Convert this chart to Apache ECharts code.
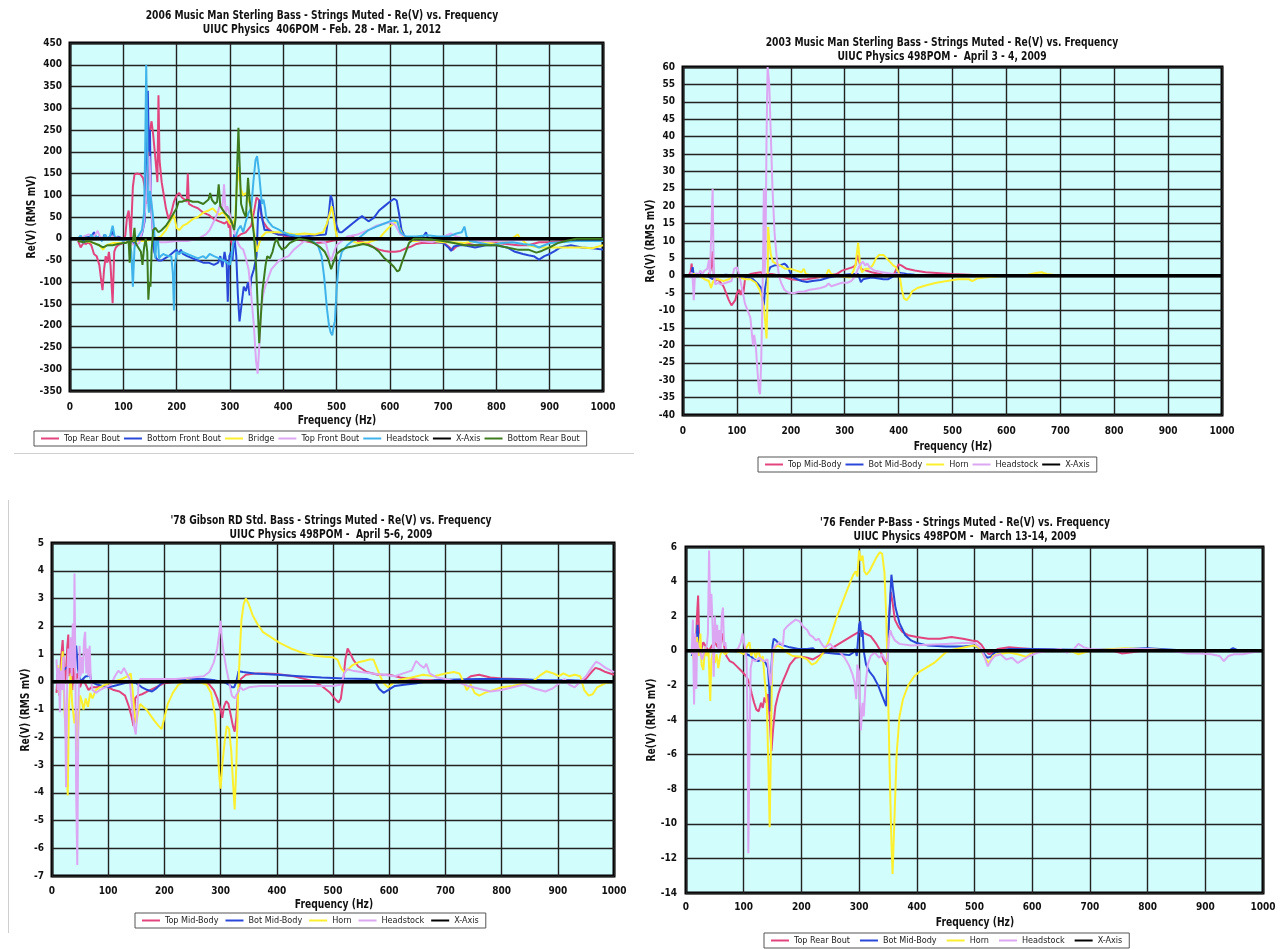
<!DOCTYPE html>
<html><head><meta charset="utf-8">
<script src="https://cdn.jsdelivr.net/npm/echarts@6/dist/echarts.min.js"></script>
<style>
html,body{margin:0;padding:0;background:#fff;width:1287px;height:949px;overflow:hidden;position:relative}
.ch{position:absolute;left:0;top:0;width:1287px;height:949px}
</style></head>
<body>
<div id="c1" class="ch"></div>
<div id="c2" class="ch"></div>
<div id="c3" class="ch"></div>
<div id="c4" class="ch"></div>
<script>
// ---------- Chart 1 : 2006 Music Man Sterling ----------
const c1Names = ['Top Rear Bout','Bottom Front Bout','Bridge','Top Front Bout','Headstock','X-Axis','Bottom Rear Bout'];
const c1TopRearBout = [[15,-5],[20,-20],[25,-10],[30,-12],[35,-8],[40,-15],[45,-35],[50,-40],[55,-60],[58,-90],[61,-118],[64,-70],[67,-40],[70,-55],[73,-30],[76,-60],[80,-148],[83,-30],[86,-20],[90,-15],[95,-12],[100,-10],[104,10],[107,50],[110,65],[112,40],[114,0],[116,60],[118,120],[121,148],[126,150],[132,148],[137,140],[140,120],[143,80],[147,150],[150,250],[153,270],[156,240],[159,200],[162,160],[164,130],[166,330],[168,180],[172,130],[176,100],[180,70],[185,45],[190,60],[195,85],[200,100],[205,105],[210,95],[215,90],[219,85],[221,150],[223,80],[230,75],[240,70],[250,60],[260,55],[270,45],[280,40],[290,35],[295,40],[298,25],[300,35],[302,-5],[306,-20],[310,0],[315,5],[320,10],[330,15],[340,30],[345,60],[350,95],[354,90],[358,60],[362,40],[370,25],[380,15],[390,10],[400,8],[420,0],[440,-5],[460,-10],[480,-8],[490,-5],[500,-3],[510,-2],[520,0],[530,5],[540,-5],[550,-8],[560,-12],[570,-20],[580,-25],[590,-28],[600,-30],[610,-30],[620,-28],[630,-22],[640,-18],[650,-12],[660,-10],[680,-10],[700,-8],[710,-18],[718,-26],[725,-18],[740,-10],[760,-15],[780,-12],[800,-10],[820,-12],[840,-15],[860,-15],[880,-8],[900,-8],[920,-5],[950,-3],[980,0],[1000,0]];
const c1BottomFrontBout = [[15,0],[20,5],[25,0],[30,3],[40,5],[45,15],[50,0],[55,5],[60,-5],[65,10],[70,0],[75,5],[80,18],[83,0],[90,5],[100,0],[110,-5],[120,-10],[125,0],[130,-5],[135,10],[140,40],[143,150],[146,340],[148,200],[150,250],[152,80],[155,20],[158,-30],[162,-45],[166,-50],[172,-50],[178,-45],[185,-40],[190,-35],[195,-30],[200,-25],[204,-35],[208,-25],[212,-35],[220,-40],[230,-45],[240,-50],[250,-55],[260,-55],[270,-60],[278,-55],[282,-40],[286,-65],[290,-30],[294,-60],[296,-145],[299,-40],[302,-30],[305,-50],[308,10],[312,-40],[315,-130],[318,-190],[322,-150],[326,-110],[330,-120],[334,-100],[337,-130],[340,-90],[345,-70],[350,-40],[353,60],[356,90],[360,50],[365,20],[370,20],[380,15],[390,10],[400,10],[420,5],[440,5],[460,8],[480,10],[485,50],[489,100],[492,90],[495,60],[500,30],[505,15],[510,15],[520,25],[530,35],[540,45],[548,52],[555,45],[560,40],[570,48],[580,65],[590,75],[600,85],[608,92],[613,88],[617,60],[622,20],[630,0],[640,-5],[660,0],[668,15],[672,0],[680,-5],[700,-10],[710,-20],[715,-28],[720,-18],[730,-15],[740,-15],[760,-20],[780,-15],[800,-15],[820,-20],[835,-30],[850,-35],[860,-38],[870,-40],[880,-48],[890,-40],[900,-35],[910,-28],[920,-20],[940,-15],[960,-20],[980,-22],[1000,-25]];
const c1Bridge = [[15,0],[30,-5],[45,-10],[55,-15],[62,-25],[68,-15],[80,-10],[100,-10],[120,-5],[140,-5],[160,0],[170,5],[180,20],[188,40],[195,55],[200,25],[205,20],[212,30],[220,35],[230,45],[240,50],[250,60],[260,65],[268,70],[275,60],[280,55],[285,60],[290,58],[295,45],[300,35],[305,30],[310,50],[313,120],[316,165],[320,115],[325,100],[330,105],[335,90],[340,70],[345,20],[350,-30],[355,-10],[360,5],[368,15],[380,15],[400,15],[420,10],[440,12],[460,10],[475,15],[482,35],[488,60],[491,75],[494,55],[498,20],[502,0],[510,0],[520,-2],[540,-10],[560,-8],[580,0],[590,15],[600,28],[608,35],[613,42],[618,25],[625,5],[640,-5],[660,-5],[680,-5],[700,-8],[720,-8],[740,-10],[760,-5],[780,-10],[800,-12],[820,-5],[835,5],[840,10],[845,0],[860,-15],[880,-20],[900,-20],[930,-20],[960,-20],[980,-22],[1000,-15]];
const c1TopFrontBout = [[15,0],[25,5],[35,10],[45,5],[52,18],[56,5],[65,0],[80,5],[100,0],[110,-5],[120,-15],[130,-10],[138,30],[142,80],[146,170],[149,190],[152,100],[155,20],[160,-5],[170,-8],[180,-8],[200,-5],[220,-5],[240,0],[255,10],[262,20],[268,35],[272,45],[277,60],[282,80],[286,70],[289,125],[292,60],[295,75],[300,55],[305,30],[310,10],[315,-10],[320,-20],[325,-25],[330,-45],[335,-70],[340,-130],[345,-200],[349,-280],[352,-310],[355,-250],[358,-170],[362,-130],[366,-110],[372,-90],[378,-70],[385,-60],[392,-50],[400,-45],[410,-40],[420,-25],[430,-15],[440,-5],[460,0],[480,-10],[486,-40],[490,-50],[494,-35],[500,-15],[510,-5],[520,5],[540,10],[560,20],[575,30],[590,35],[600,38],[610,32],[620,10],[640,0],[660,-5],[680,-8],[700,5],[715,12],[725,5],[740,0],[760,-5],[800,-5],[850,-3],[900,0],[950,0],[1000,0]];
const c1Headstock = [[15,0],[20,8],[25,-10],[30,5],[35,-5],[40,10],[45,0],[50,5],[56,0],[60,-5],[66,10],[70,0],[75,5],[80,30],[84,5],[90,0],[100,-5],[110,0],[115,-30],[118,-110],[121,-20],[125,0],[130,10],[135,20],[139,60],[141,200],[143,400],[145,250],[146,100],[148,60],[150,110],[152,90],[155,60],[158,20],[160,-45],[162,-10],[165,0],[167,-45],[170,-40],[175,-35],[180,-38],[185,-40],[190,-40],[193,-80],[195,-165],[197,-60],[200,-30],[205,-35],[210,-30],[220,-35],[230,-40],[240,-45],[250,-40],[255,-45],[262,-35],[270,-40],[280,-45],[288,-50],[295,-55],[300,-60],[303,-40],[306,-10],[310,0],[315,20],[320,30],[325,15],[330,40],[335,60],[340,70],[344,130],[348,180],[351,190],[354,160],[357,120],[360,80],[363,90],[366,70],[368,50],[372,40],[380,28],[390,22],[400,15],[410,10],[420,8],[440,0],[455,-5],[465,-15],[472,-40],[477,-90],[482,-160],[486,-200],[489,-215],[492,-222],[495,-200],[497,-190],[500,-120],[504,-60],[510,-30],[520,-15],[530,-5],[540,0],[550,10],[560,20],[575,28],[590,35],[600,40],[608,42],[614,40],[620,15],[630,5],[650,5],[670,8],[690,5],[710,5],[725,12],[735,15],[740,28],[744,5],[750,-5],[770,-10],[790,-15],[810,-10],[830,-8],[850,-12],[870,-15],[880,-20],[890,-15],[900,-10],[920,-8],[950,-5],[980,-5],[1000,-5]];
const c1BottomRearBout = [[15,-5],[25,-8],[35,-5],[45,-10],[55,-15],[62,-20],[70,-15],[80,-15],[90,-12],[100,-10],[105,-10],[110,-5],[112,-55],[114,-5],[118,-5],[121,25],[123,-10],[128,-20],[133,-30],[136,-60],[139,-20],[142,0],[145,-30],[147,-140],[149,-100],[151,-110],[153,-30],[156,20],[160,25],[166,15],[172,20],[180,30],[188,45],[195,60],[200,70],[204,85],[210,85],[220,90],[230,85],[240,85],[250,80],[255,85],[260,90],[263,105],[266,90],[272,80],[276,85],[279,125],[282,75],[290,60],[298,50],[303,40],[308,20],[311,50],[314,180],[316,255],[318,180],[321,80],[326,60],[330,50],[334,140],[337,90],[341,50],[345,10],[349,-60],[352,-150],[355,-240],[358,-180],[361,-120],[364,-90],[367,-60],[370,-40],[375,-45],[380,-30],[384,-10],[388,0],[392,-15],[398,-25],[405,-20],[412,-10],[420,-5],[430,0],[440,-2],[450,-5],[460,-12],[470,-20],[478,-30],[484,-45],[490,-70],[494,-55],[500,-35],[510,-25],[520,-20],[530,-18],[540,-15],[550,-12],[560,-15],[570,-20],[580,-30],[590,-45],[600,-55],[608,-65],[614,-75],[618,-72],[624,-50],[630,-30],[636,-10],[645,0],[660,0],[680,-2],[700,-5],[720,-10],[740,-15],[760,-15],[780,-15],[800,-15],[820,-20],[840,-25],[860,-25],[875,-32],[885,-28],[900,-20],[915,-10],[930,-5],[950,0],[980,0],[1000,0]];

// ---------- Chart 2 : 2003 Music Man Sterling ----------
const c2Names = ['Top Mid-Body','Bot Mid-Body','Horn','Headstock','X-Axis'];
const c2TopMidBody = [[10,0],[14,1],[16,3.5],[18,0],[25,0],[35,0.3],[45,0],[50,1],[53,3],[55,7],[57,0],[60,-1.5],[65,-1],[70,-2],[75,-3],[80,-5],[85,-7],[90,-8.5],[93,-9],[97,-7],[100,-5],[104,-4],[107,-5.5],[110,-3.5],[112,-5],[115,-1],[118,0],[125,0.5],[135,0.8],[145,1],[150,0],[155,0.5],[165,0.5],[180,0],[190,-0.5],[200,-1],[215,-1.2],[230,-1],[250,-0.5],[270,0],[285,0.5],[295,1.5],[305,2],[315,2.5],[320,3],[324,6],[327,4],[330,2],[340,1.5],[350,1],[365,0.5],[380,0],[390,0],[396,2],[400,3.3],[405,3],[415,2],[430,1.5],[450,1],[470,0.8],[500,0.5],[530,0.3],[560,0.1],[600,0],[700,0],[800,0],[1000,0]];
const c2BotMidBody = [[10,0],[15,0],[18,2.5],[20,0],[30,0.5],[45,0],[55,-1],[60,0],[80,0.3],[100,0],[110,0],[120,-0.5],[130,-1],[140,-2.5],[145,-3.5],[148,-7],[150,-8.5],[152,-4],[155,-1],[158,1],[162,2.5],[170,3],[180,3],[188,3.5],[192,3],[196,2],[200,0.5],[205,-0.5],[212,-1],[220,-1.5],[230,-1.8],[240,-1.5],[255,-1.2],[270,-0.5],[285,0],[300,0.3],[315,0.5],[325,0.5],[330,-1.8],[334,-1],[340,-0.8],[350,-0.5],[360,-0.7],[372,-1],[380,-1],[386,-0.5],[392,0],[398,1],[404,0.8],[415,0.5],[430,0.3],[450,0.1],[500,0],[600,0],[1000,0]];
const c2Horn = [[10,0],[20,0.5],[30,0],[40,-1],[48,-1.5],[52,-3.5],[55,-2],[58,-1],[65,-1],[75,-1.5],[85,-1],[95,0],[105,-0.5],[115,-1],[125,-1],[135,-2],[142,-4],[146,-6],[150,-9],[153,-14],[155,-18],[157,-5],[158,14],[160,10],[163,6],[167,4],[173,3.5],[180,3],[190,2],[200,2],[210,1.5],[220,1],[224,2],[228,0.5],[240,0],[255,-0.2],[265,0],[270,1.8],[275,0.5],[285,0],[300,-0.3],[310,-0.5],[315,1],[320,3],[323,7],[325,9.5],[328,4],[332,1],[338,2],[345,2],[352,3],[358,5],[364,6],[372,6],[378,5],[384,4],[390,3],[395,2.5],[400,1],[403,-1],[406,-4],[410,-6.5],[415,-7],[420,-6],[425,-4.5],[435,-3.5],[450,-2.8],[470,-2],[490,-1.5],[510,-1],[530,-1],[537,-1.5],[545,-0.8],[560,-0.5],[580,-0.2],[600,0],[640,0.3],[655,0.8],[665,1],[675,0.5],[700,0],[800,0],[900,0],[1000,0]];
const c2Headstock = [[10,0.5],[13,-0.5],[16,1],[18,-1],[20,-7],[22,0],[25,0.8],[28,0],[32,1.5],[36,0.5],[40,1.5],[45,2],[48,4.5],[50,0],[52,0],[55,25],[57,1],[60,-2.5],[65,-2],[70,-2.5],[80,-2],[90,-1.5],[95,2],[100,2.5],[103,1],[106,-1],[110,-4],[115,-8],[120,-10],[125,-12],[128,-17],[130,-20],[132,-17],[135,-20],[138,-27],[141,-33],[143,-34],[145,-25],[147,-10],[149,10],[150,25],[151,0],[153,5],[155,40],[157,60],[160,55],[163,40],[166,25],[170,12],[174,5],[178,0],[182,-2],[188,-4],[195,-4.8],[205,-5],[215,-4.6],[225,-4.5],[235,-4],[245,-3.8],[255,-3.5],[265,-3],[270,-2.2],[275,-3],[285,-2.5],[295,-2],[305,-2],[312,-1.5],[318,-0.5],[322,1],[326,2.5],[330,3.5],[334,4],[338,3],[342,3.5],[346,2.5],[355,1.5],[370,1],[390,0.5],[410,0.3],[450,0.1],[500,0],[600,0],[1000,0]];

// ---------- Chart 3 : '78 Gibson RD ----------
const c3Names = ['Top Mid-Body','Bot Mid-Body','Horn','Headstock','X-Axis'];
const c3TopMidBody = [[8,-0.4],[10,0.3],[13,-0.5],[16,0.8],[19,1.5],[21,0.5],[24,0],[27,1.2],[29,1.7],[31,0.2],[34,1.2],[36,-0.3],[38,0.5],[41,0],[45,0.3],[50,-0.2],[55,0.1],[60,-0.1],[65,-0.3],[70,-0.2],[80,-0.2],[90,-0.15],[100,-0.2],[110,-0.3],[120,-0.35],[130,-0.5],[137,-0.9],[142,-1.3],[145,-1.6],[148,-0.6],[152,-0.5],[160,-0.45],[170,-0.35],[180,-0.25],[190,-0.15],[200,-0.05],[220,0],[250,0.03],[270,0],[280,-0.1],[288,-0.3],[294,-0.6],[300,-1],[303,-1.3],[306,-0.9],[310,-0.7],[314,-0.8],[318,-1.2],[322,-1.6],[325,-1.8],[328,-1.3],[331,-0.4],[336,0.1],[345,0.25],[360,0.3],[380,0.3],[400,0.28],[430,0.2],[460,0.05],[480,-0.15],[495,-0.4],[505,-0.65],[510,-0.75],[514,-0.6],[518,0],[522,0.8],[526,1.2],[530,1.05],[536,0.8],[545,0.55],[560,0.35],[580,0.25],[600,0.25],[620,0.15],[640,0.1],[660,0.05],[680,0.05],[700,0],[720,0],[735,0.05],[745,0.2],[760,0.25],[780,0.15],[800,0.12],[830,0.1],[860,0.05],[880,0],[900,0.02],[920,0.05],[940,0],[950,0.1],[960,0.35],[967,0.5],[975,0.45],[985,0.35],[1000,0.25]];
const c3BotMidBody = [[8,0.2],[15,0.3],[25,0.5],[35,0.6],[40,0.7],[43,1.3],[46,0.5],[50,0],[55,0.1],[60,0.2],[64,0.2],[67,0.35],[70,0],[80,-0.1],[90,-0.15],[100,-0.2],[110,-0.15],[120,-0.1],[130,-0.05],[140,0],[150,-0.05],[160,-0.2],[170,-0.3],[178,-0.35],[185,-0.25],[195,-0.05],[210,0.05],[240,0.1],[270,0.1],[290,0.05],[305,0],[315,-0.1],[320,-0.2],[324,-0.2],[328,0],[332,0.38],[340,0.35],[360,0.3],[400,0.25],[440,0.2],[480,0.15],[520,0.12],[560,0.1],[575,0],[582,-0.25],[590,-0.4],[598,-0.3],[610,-0.15],[630,-0.1],[650,-0.05],[680,0.05],[720,0.08],[760,0.1],[800,0.1],[840,0.08],[880,0.05],[920,0.05],[960,0.03],[1000,0]];
const c3Horn = [[10,0.6],[13,-0.4],[16,0.3],[19,1.1],[22,-1],[25,-2],[28,-4.1],[30,-1],[33,0.3],[36,-0.8],[40,-1.5],[43,-1],[45,-2.5],[47,-1.5],[50,-0.5],[53,-0.7],[56,-1],[60,-0.6],[64,-0.9],[68,-0.4],[72,-0.6],[78,-0.3],[85,-0.2],[95,-0.1],[110,0],[125,0.1],[135,0.2],[140,0.3],[143,-0.2],[147,-1.2],[150,-1.5],[153,-1.1],[157,-0.8],[162,-0.9],[168,-1],[175,-1.2],[182,-1.4],[190,-1.6],[195,-1.7],[200,-1.3],[206,-0.8],[215,-0.4],[225,-0.1],[240,0.05],[260,0],[275,-0.1],[283,-0.4],[290,-1.2],[295,-2.5],[298,-3.5],[300,-3.85],[303,-3],[307,-2.2],[311,-1.6],[315,-1.7],[319,-2.5],[322,-3.6],[325,-4.6],[328,-3],[331,-0.5],[334,1],[337,2.2],[341,2.8],[345,3],[350,2.8],[357,2.4],[365,2.1],[375,1.8],[390,1.6],[405,1.4],[425,1.2],[445,1.05],[465,0.95],[485,0.9],[500,0.88],[508,0.8],[514,0.5],[520,0.35],[527,0.45],[535,0.6],[545,0.7],[555,0.75],[565,0.8],[572,0.8],[578,0.5],[584,0.2],[590,-0.05],[598,-0.2],[610,0],[625,0.1],[640,0.15],[660,0.25],[680,0.2],[700,0.3],[715,0.35],[725,0.3],[732,0],[738,-0.3],[745,-0.1],[752,-0.4],[760,-0.5],[770,-0.4],[785,-0.3],[800,-0.2],[820,-0.15],[840,-0.05],[855,0],[870,0.25],[880,0.38],[892,0.3],[902,0.2],[910,0.3],[920,0.2],[930,0.25],[940,0.2],[947,-0.3],[955,-0.5],[962,-0.45],[970,-0.2],[985,-0.05],[1000,0]];
const c3Headstock = [[8,0.8],[10,-0.3],[12,0.5],[14,-1.1],[16,0.4],[18,-0.3],[20,0.9],[22,-0.5],[24,-2],[25,-3.8],[27,0],[29,1.2],[31,0.5],[33,1.6],[35,0.2],[37,2.1],[39,0.5],[40,3.9],[42,-0.5],[43,-4],[45,-6.6],[47,-1],[49,1.3],[51,0.2],[53,0.9],[55,0.3],[57,1.5],[59,1.8],[61,0.3],[63,1.2],[65,0.2],[67,1.3],[69,0.1],[72,-0.3],[78,-0.4],[85,-0.3],[95,-0.2],[105,-0.1],[112,0.2],[118,0.4],[123,0.3],[128,0.5],[133,0.3],[138,0.1],[142,-0.8],[146,-1.6],[149,-1.9],[152,-1],[154,0],[158,0.1],[170,0.1],[190,0.1],[220,0.1],[250,0.15],[270,0.2],[280,0.35],[288,0.7],[294,1.2],[298,1.8],[300,2.2],[302,1.6],[305,1.1],[310,0.5],[315,0],[320,-0.5],[325,-0.6],[330,-0.4],[335,-0.2],[340,-0.3],[350,-0.2],[370,-0.15],[400,-0.15],[450,-0.15],[500,-0.15],[515,-0.1],[520,0.3],[525,0.45],[535,0.4],[550,0.35],[570,0.3],[590,0.25],[610,0.2],[625,0.3],[640,0.4],[648,0.75],[655,0.6],[662,0.5],[666,0.65],[672,0.3],[685,0.15],[700,0.1],[720,0],[740,-0.15],[760,-0.25],[780,-0.35],[800,-0.3],[820,-0.2],[840,-0.1],[860,-0.25],[878,-0.35],[890,-0.25],[900,-0.1],[912,0.1],[920,-0.1],[930,-0.2],[940,0],[950,0.2],[960,0.5],[968,0.72],[975,0.65],[985,0.5],[995,0.4],[1000,0.35]];

// ---------- Chart 4 : '76 Fender P-Bass ----------
const c4Names = ['Top Rear Bout','Bot Mid-Body','Horn','Headstock','X-Axis'];
const c4TopRearBout = [[10,0],[14,0.8],[17,0.3],[19,2],[21,3.2],[23,0.5],[26,0],[30,0.5],[35,0.2],[40,0],[45,0.3],[50,0.5],[55,0.2],[60,0.5],[63,1],[66,0.3],[70,-0.3],[76,-0.6],[82,-0.7],[88,-0.9],[94,-1.1],[100,-1.3],[105,-1.5],[110,-1.9],[114,-2.5],[118,-3],[122,-3.4],[126,-3.5],[130,-3],[133,-3.3],[136,-2.7],[139,-3],[142,-2.5],[145,-3.8],[148,-5.8],[151,-4.5],[155,-3.2],[160,-2.5],[165,-2],[170,-1.6],[175,-1.2],[180,-0.8],[190,-0.4],[200,-0.35],[210,-0.4],[220,-0.5],[230,-0.3],[240,-0.1],[250,0.1],[260,0.3],[270,0.5],[280,0.7],[290,0.9],[300,1.1],[305,1.1],[310,1],[320,0.85],[330,0.4],[337,0],[342,-0.5],[347,-0.8],[350,0],[352,2],[355,3.4],[358,2.8],[362,1.8],[368,1.4],[375,1.1],[385,0.9],[400,0.8],[420,0.7],[440,0.7],[460,0.8],[480,0.7],[495,0.6],[505,0.55],[512,0.35],[518,0.05],[525,-0.2],[532,-0.1],[540,0.1],[560,0.2],[580,0.15],[600,0.1],[650,0.05],[700,0.05],[740,0],[755,-0.15],[770,-0.1],[790,0],[800,0.05],[850,0],[900,0],[1000,0]];
const c4BotMidBody = [[10,-0.3],[14,0.5],[17,0],[20,1.5],[22,0.5],[26,0],[35,0],[50,0],[65,0],[80,0],[95,-0.05],[105,-0.2],[112,-0.3],[118,-0.5],[125,-0.6],[132,-0.5],[138,-0.7],[142,-1],[144,-2],[146,-3.5],[148,-1],[150,0.3],[152,0.7],[156,0.6],[160,0.45],[170,0.3],[180,0.2],[195,0.1],[210,0.1],[220,0.15],[225,0],[240,-0.1],[255,-0.15],[270,-0.2],[283,-0.25],[290,-0.1],[293,0.1],[296,-0.3],[300,1.5],[302,1.7],[304,0.8],[306,1.2],[308,0],[312,-0.8],[318,-1.2],[325,-1.5],[333,-2],[340,-2.6],[347,-3.2],[350,0.5],[353,2.5],[356,4.4],[359,3.5],[363,2.5],[370,1.6],[380,0.9],[390,0.6],[400,0.45],[420,0.3],[450,0.25],[480,0.25],[500,0.3],[508,0.15],[515,-0.1],[522,-0.4],[528,-0.35],[535,-0.1],[545,0],[560,0.1],[600,0.1],[700,0.05],[760,0.1],[800,0.15],[850,0.05],[900,0],[940,0],[948,0.15],[955,0.05],[970,0.05],[1000,0]];
const c4Horn = [[10,0.3],[13,-0.5],[15,0.5],[17,-1],[19,0.8],[22,-0.3],[25,1],[27,-0.8],[30,-1.1],[33,0.2],[36,-0.3],[39,0],[42,-2.9],[44,-0.5],[47,0],[50,-0.7],[53,-0.2],[56,-1],[59,-0.3],[62,0],[68,-0.2],[75,0],[85,0],[95,-0.1],[100,-0.2],[105,0.2],[110,0.5],[113,-0.3],[117,0.1],[121,-0.4],[125,0.1],[130,-0.6],[133,-0.3],[136,-1.5],[140,-3],[143,-7],[145,-10.2],[147,-6],[149,-1],[152,0.1],[158,0.3],[165,0.2],[175,-0.1],[185,-0.3],[200,-0.35],[210,-0.5],[218,-0.8],[225,-0.7],[232,-0.4],[240,0],[248,0.6],[255,1.3],[262,2],[270,2.7],[278,3.4],[285,4],[290,4.4],[294,4.6],[297,4.3],[300,5.8],[303,5.2],[306,5.5],[309,4.6],[313,4.4],[318,4.6],[324,5],[330,5.4],[336,5.7],[340,5.6],[344,4.5],[347,2],[350,-2],[353,-7],[356,-11],[358,-12.9],[361,-10],[365,-6],[370,-3.8],[376,-2.8],[385,-2],[395,-1.5],[405,-1.2],[420,-0.9],[430,-0.7],[440,-0.4],[450,-0.1],[460,0.05],[475,0.15],[490,0.25],[500,0.3],[507,0.2],[513,-0.1],[520,-0.5],[525,-0.7],[532,-0.3],[540,-0.2],[560,-0.1],[575,-0.2],[590,-0.35],[600,-0.1],[620,0],[650,0],[670,-0.05],[680,-0.2],[690,-0.1],[700,0],[740,0.1],[760,0.15],[790,0.1],[800,0.1],[850,0],[900,0],[1000,0]];
const c4Headstock = [[10,-0.2],[11,1],[12,1.8],[13,-1],[14,-3.1],[15,-1],[16,1],[17,0],[18,-2.2],[19,0.5],[21,0.2],[24,0],[28,-0.5],[32,0],[36,0.3],[38,1],[40,5.8],[42,2],[44,3.3],[46,1.5],[48,-1.5],[50,2],[52,0.5],[54,1.5],[56,0],[58,1.2],[60,0],[62,2],[64,2.5],[66,0.3],[68,0.5],[70,0],[80,0],[90,0.1],[95,0.5],[98,1],[100,0.9],[103,0],[105,-0.5],[107,-5],[108,-11.7],[110,-6],[112,-1],[115,-0.5],[120,-0.6],[127,-0.4],[135,-0.6],[141,-0.5],[145,-1.5],[147,-2],[150,0],[155,0.3],[162,0.5],[168,0.3],[170,1.2],[175,1.4],[182,1.6],[190,1.8],[197,1.7],[203,1.4],[210,1.2],[215,0.9],[220,0.8],[225,0.6],[230,0.7],[235,0.4],[240,0.2],[245,0.3],[250,0.4],[255,0.2],[265,0],[275,-0.4],[282,-0.8],[288,-1.3],[292,-1.8],[295,-2.8],[297,-0.8],[300,-1.2],[303,-4.6],[306,-3],[308,-3.8],[311,-2],[315,-0.8],[320,-0.3],[327,-0.1],[335,-0.4],[340,-0.2],[345,-0.5],[349,-0.6],[351,0.5],[354,1.2],[357,0.9],[362,0.6],[370,0.4],[390,0.3],[420,0.35],[450,0.4],[480,0.45],[500,0.45],[510,0.2],[518,-0.4],[523,-0.9],[528,-0.6],[535,-0.3],[545,-0.2],[555,-0.5],[565,-0.4],[575,-0.7],[585,-0.5],[595,-0.3],[610,-0.1],[630,0],[650,0.1],[660,-0.1],[672,0.1],[680,0.4],[690,0.2],[700,0.1],[730,0.05],[760,0.1],[800,0.1],[840,0],[870,-0.15],[890,-0.15],[910,-0.2],[925,-0.3],[932,-0.6],[940,-0.3],[950,-0.2],[965,-0.2],[980,-0.1],[1000,0]];

const xAxisLine = [[0,0],[1000,0]];
const xAxisTitle = 'Frequency (Hz)';
const yAxisTitle = 'Re(V) (RMS mV)';

// ---------- styling ----------
const FONT = "'Liberation Sans Narrow','Arial Narrow','DejaVu Sans Condensed','Liberation Sans',sans-serif";
const PINK='#E2447E', BLUE='#2A48D8', YELLOW='#FCEF2E', LAV='#DCA6F2', SKY='#3FB3EA', GREEN='#3E7A1E', BLACK='#000000';
const SQ = 0.85; // horizontal squeeze of the reference lettering

function txt(x, y, s, size, rot){
  return {type:'text', x:x, y:y, rotation:rot||0, scaleX:SQ, scaleY:1, silent:true,
    style:{text:s, font:'bold '+size+'px '+FONT, fill:'#111', align:'center', verticalAlign:'middle'}};
}

function build(id, cfg){
  const chart = echarts.init(document.getElementById(id), null, {renderer:'canvas'});
  const series = cfg.series.map((s,i)=>({
    name:s.name, type:'line', data:s.data, showSymbol:false, symbol:'none',
    color:s.color, lineStyle:{color:s.color, width:s.name==='X-Axis'?3.5:2},
    z: 2+i, animation:false, silent:true
  }));
  const graphic = [
    txt(cfg.titleX, cfg.titleY, cfg.title[0], 12, 0),
    txt(cfg.titleX, cfg.titleY+14, cfg.title[1], 12, 0),
    txt(cfg.xName[0], cfg.xName[1], xAxisTitle, 12, 0),
    txt(cfg.yName[0], cfg.yName[1], yAxisTitle, 12, Math.PI/2)
  ].concat(cfg.extra||[]);
  chart.setOption({
    animation:false,
    backgroundColor:'transparent',
    textStyle:{fontFamily:FONT},
    graphic: graphic,
    grid:{left:cfg.grid[0], top:cfg.grid[1], width:cfg.grid[2], height:cfg.grid[3], show:true,
      backgroundColor:'#D2FDFD', borderColor:'#000', borderWidth:3, containLabel:false},
    legend:{left:cfg.legend[0], top:cfg.legend[1], data:cfg.series.map(s=>s.name), icon:'rect',
      itemWidth:18, itemHeight:2, itemGap:cfg.lgap, padding:[3,7,3,7], borderColor:'#555', borderWidth:1,
      selectedMode:false, textStyle:{fontSize:9, color:'#222', fontFamily:FONT}},
    xAxis:{type:'value', min:0, max:1000, interval:100,
      axisLine:{show:false}, axisTick:{show:false},
      splitLine:{show:true, lineStyle:{color:'#222', width:1.4}},
      axisLabel:{fontSize:10, fontWeight:'bold', color:'#111', margin:cfg.xm, fontFamily:FONT, formatter:v=>String(v)}},
    yAxis:{type:'value', min:cfg.y[0], max:cfg.y[1], interval:cfg.y[2],
      axisLine:{show:false}, axisTick:{show:false},
      splitLine:{show:true, lineStyle:{color:'#222', width:1.4}},
      axisLabel:{fontSize:10, fontWeight:'bold', color:'#111', margin:cfg.ym, fontFamily:FONT, formatter:v=>String(v)}},
    series: series
  });
}

build('c1', {
  grid:[70,43,533,348], y:[-350,450,50], xm:11, ym:8, lgap:4,
  title:['2006 Music Man Sterling Bass - Strings Muted - Re(V) vs. Frequency','UIUC Physics  406POM - Feb. 28 - Mar. 1, 2012'],
  titleX:322, titleY:16, legend:[34,431], xName:[337,421], yName:[32,217],
  series:[
    {name:c1Names[0], color:PINK, data:c1TopRearBout},
    {name:c1Names[1], color:BLUE, data:c1BottomFrontBout},
    {name:c1Names[2], color:YELLOW, data:c1Bridge},
    {name:c1Names[3], color:LAV, data:c1TopFrontBout},
    {name:c1Names[4], color:SKY, data:c1Headstock},
    {name:c1Names[5], color:BLACK, data:xAxisLine},
    {name:c1Names[6], color:GREEN, data:c1BottomRearBout}
  ],
  extra:[
    {type:'line', shape:{x1:14,y1:453.5,x2:634,y2:453.5}, style:{stroke:'#cfcfcf', lineWidth:1}},
    {type:'line', shape:{x1:8.5,y1:500,x2:8.5,y2:933}, style:{stroke:'#cfcfcf', lineWidth:1}}
  ]
});
build('c2', {
  grid:[683,67,539,348], y:[-40,60,5], xm:11, ym:8, lgap:4,
  title:['2003 Music Man Sterling Bass - Strings Muted - Re(V) vs. Frequency','UIUC Physics 498POM -  April 3 - 4, 2009'],
  titleX:942, titleY:43, legend:[758,457], xName:[953,447], yName:[651,241],
  series:[
    {name:c2Names[0], color:PINK, data:c2TopMidBody},
    {name:c2Names[1], color:BLUE, data:c2BotMidBody},
    {name:c2Names[2], color:YELLOW, data:c2Horn},
    {name:c2Names[3], color:LAV, data:c2Headstock},
    {name:c2Names[4], color:BLACK, data:xAxisLine}
  ]
});
build('c3', {
  grid:[52,543,562,333], y:[-7,5,1], xm:10, ym:8, lgap:7,
  title:["'78 Gibson RD Std. Bass - Strings Muted - Re(V) vs. Frequency",'UIUC Physics 498POM -  April 5-6, 2009'],
  titleX:331, titleY:521, legend:[135,913], xName:[334,905], yName:[26,710],
  series:[
    {name:c3Names[0], color:PINK, data:c3TopMidBody},
    {name:c3Names[1], color:BLUE, data:c3BotMidBody},
    {name:c3Names[2], color:YELLOW, data:c3Horn},
    {name:c3Names[3], color:LAV, data:c3Headstock},
    {name:c3Names[4], color:BLACK, data:xAxisLine}
  ]
});
build('c4', {
  grid:[686,547,577,346], y:[-14,6,2], xm:9, ym:9, lgap:10,
  title:["'76 Fender P-Bass - Strings Muted - Re(V) vs. Frequency",'UIUC Physics 498POM -  March 13-14, 2009'],
  titleX:965, titleY:523, legend:[764,933], xName:[975,923], yName:[652,720],
  series:[
    {name:c4Names[0], color:PINK, data:c4TopRearBout},
    {name:c4Names[1], color:BLUE, data:c4BotMidBody},
    {name:c4Names[2], color:YELLOW, data:c4Horn},
    {name:c4Names[3], color:LAV, data:c4Headstock},
    {name:c4Names[4], color:BLACK, data:xAxisLine}
  ]
});
</script>
</body></html>
